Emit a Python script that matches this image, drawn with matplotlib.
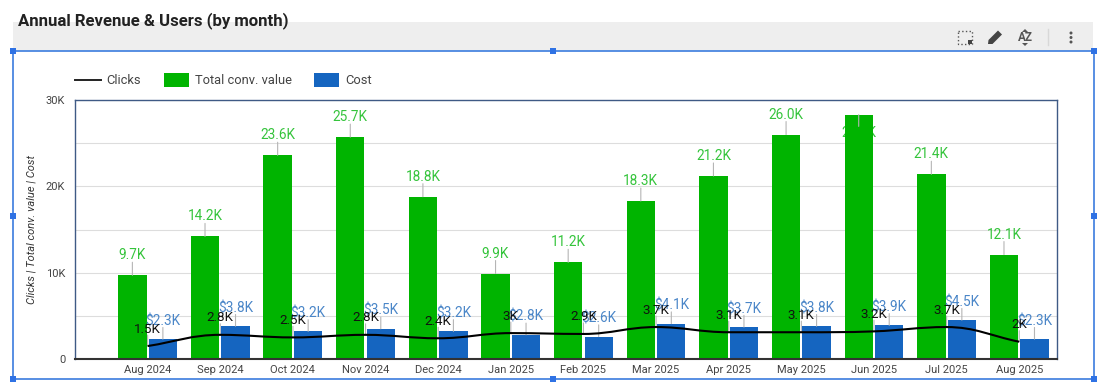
""" Annual revenue & users, combo chart inside a dashboard editor frame """
import numpy as np
import matplotlib
matplotlib.use('Agg')
import matplotlib.pyplot as plt
from matplotlib.path import Path
from matplotlib.patches import PathPatch, Polygon, Rectangle, Circle

plt.rcParams['font.family'] = ['Roboto', 'DejaVu Sans']

months = ['Aug 2024', 'Sep 2024', 'Oct 2024', 'Nov 2024', 'Dec 2024', 'Jan 2025', 'Feb 2025',
          'Mar 2025', 'Apr 2025', 'May 2025', 'Jun 2025', 'Jul 2025', 'Aug 2025']
clicks = [1500, 2800, 2500, 2800, 2400, 3000, 2900, 3700, 3100, 3100, 3200, 3700, 2000]
clicks_labels = ['1.5K', '2.8K', '2.5K', '2.8K', '2.4K', '3K', '2.9K', '3.7K', '3.1K', '3.1K', '3.2K', '3.7K', '2K']
conv_value = [9700, 14200, 23600, 25700, 18800, 9900, 11200, 18300, 21200, 26000, 28300, 21400, 12100]
conv_labels = ['9.7K', '14.2K', '23.6K', '25.7K', '18.8K', '9.9K', '11.2K', '18.3K', '21.2K', '26.0K', '28.3K', '21.4K', '12.1K']
cost = [2300, 3800, 3200, 3500, 3200, 2800, 2600, 4100, 3700, 3800, 3900, 4500, 2300]
cost_labels = ['$2.3K', '$3.8K', '$3.2K', '$3.5K', '$3.2K', '$2.8K', '$2.6K', '$4.1K', '$3.7K', '$3.8K', '$3.9K', '$4.5K', '$2.3K']

GREEN = '#00b400'
BLUE = '#1565c0'
W, H = 1104, 392

fig = plt.figure(figsize=(W / 100, H / 100), dpi=100)

# overlay in pixel coords for the editor chrome
bg = fig.add_axes([0, 0, 1, 1])
bg.set_xlim(0, W)
bg.set_ylim(H, 0)
bg.axis('off')
bg.add_patch(Rectangle((13, 22), 1080, 29, color='#eeeeee', lw=0))
bg.text(18, 20.5, 'Annual Revenue & Users (by month)', fontsize=12.1, fontweight='bold',
        color='#222222', va='center')
bg.add_patch(Rectangle((13, 51), 1081, 328, fill=False, ec='#4a86e0', lw=1.3))
for hx, hy in [(13, 51), (553, 51), (1094, 51), (13, 216), (1094, 216), (13, 379), (553, 379), (1094, 379)]:
    bg.add_patch(Rectangle((hx - 3, hy - 3), 6, 6, color='#2f72e4', lw=0, zorder=3))

# toolbar icons
bg.add_patch(Rectangle((958, 31), 14, 13, fill=False, ec='#555555', lw=1, ls=':'))
bg.add_patch(Rectangle((968, 40), 4, 4, color='#444444', lw=0))
bg.add_patch(Polygon([(988, 44), (988.5, 40), (998, 30.5), (1002, 34.5), (992.5, 44)], color='#444444', lw=0))
bg.text(1025, 37.5, 'AZ', fontsize=8.5, color='#555555', ha='center', va='center', fontweight='bold')
bg.add_patch(Polygon([(1022, 32), (1025, 29), (1028, 32)], color='#555555', lw=0))
bg.add_patch(Polygon([(1022, 43), (1025, 46), (1028, 43)], color='#555555', lw=0))
bg.plot([1048, 1048], [29, 45], color='#d8d8d8', lw=1)
for dy in (33, 37.5, 42):
    bg.add_patch(Circle((1071, dy), 1.5, color='#555555', lw=0))

ax = fig.add_axes([75 / W, 1 - 359 / H, (1057 - 75) / W, (359 - 100) / H])
x = np.arange(len(months))
bar_w = 0.39
off = 0.21

ax.bar(x - off, conv_value, bar_w, color=GREEN, zorder=2, label='Total conv. value')
ax.bar(x + off, cost, bar_w, color=BLUE, zorder=2, label='Cost')

# smooth line through the points as bezier segments, flat at the local peaks
c = np.array(clicks, dtype=float)
slopes = np.gradient(c)
slopes[1:-1][np.diff(c)[:-1] * np.diff(c)[1:] <= 0] = 0
verts = [(x[0], c[0])]
codes = [Path.MOVETO]
for i in range(len(x) - 1):
    verts += [(x[i] + 0.4, c[i] + slopes[i] * 0.4),
              (x[i + 1] - 0.4, c[i + 1] - slopes[i + 1] * 0.4),
              (x[i + 1], c[i + 1])]
    codes += [Path.CURVE4] * 3
ax.add_patch(PathPatch(Path(verts, codes), fill=False, ec='black', lw=1.5, zorder=4))


def labelled(xs, ys, texts, color, dys, size, text_z):
    for xi, yi, t, dy in zip(xs, ys, texts, dys):
        ax.annotate('', xy=(xi, yi), xytext=(0, dy * 0.65), textcoords='offset pixels',
                    arrowprops=dict(arrowstyle='-', color='#b5b5b5', lw=0.8, shrinkA=0, shrinkB=0),
                    annotation_clip=False, zorder=3)
        ax.annotate(t, xy=(xi, yi), xytext=(0, dy), textcoords='offset pixels', color=color,
                    fontsize=size, ha='center', va='center', zorder=text_z, annotation_clip=False)


# the Jun label does not fit above the bar, it sits behind it like in the dashboard
conv_dy = [20] * len(months)
conv_dy[10] = -18
labelled(x - off, conv_value, conv_labels, '#35c43c', conv_dy, 9.8, 1.5)
labelled(x + off, cost, cost_labels, '#4a86c8', [18] * len(months), 9.8, 5)
labelled(x, clicks, clicks_labels, '#111111', [17] * len(months), 9.6, 6)

ax.set_xlim(-1, 12.52)
ax.set_ylim(0, 30000)
ax.set_xticks(x)
ax.set_xticklabels(months, fontsize=8, color='#444444')
ax.set_yticks([0, 10000, 20000, 30000])
ax.set_yticklabels(['0', '10K', '20K', '30K'], fontsize=8, color='#444444')
ax.set_yticks([5000, 15000, 25000], minor=True)
ax.grid(True, axis='y', which='both', color='#dddddd', lw=0.8, zorder=0)
ax.set_axisbelow(True)
ax.tick_params(axis='x', which='both', length=0, pad=4)
ax.tick_params(axis='y', which='both', length=0, pad=7)
ax.set_ylabel('Clicks | Total conv. value | Cost', fontsize=8, fontstyle='italic', color='#333333', labelpad=7)
for side in ('top', 'left', 'right'):
    ax.spines[side].set_color('#3f5a85')
    ax.spines[side].set_linewidth(1)
ax.spines['bottom'].set_color('#333333')
ax.spines['bottom'].set_linewidth(1.5)

# legend, laid out by hand on the overlay
bg.plot([75, 101], [80, 80], color='#222222', lw=1.4)
bg.text(106, 80, 'Clicks', fontsize=9.3, color='#444444', va='center')
bg.add_patch(Rectangle((164, 73), 25, 14, color=GREEN, lw=0))
bg.text(195, 80, 'Total conv. value', fontsize=9.3, color='#444444', va='center')
bg.add_patch(Rectangle((314, 73), 25, 14, color=BLUE, lw=0))
bg.text(345, 80, 'Cost', fontsize=9.3, color='#444444', va='center')

fig.savefig('out.png', dpi=100)
